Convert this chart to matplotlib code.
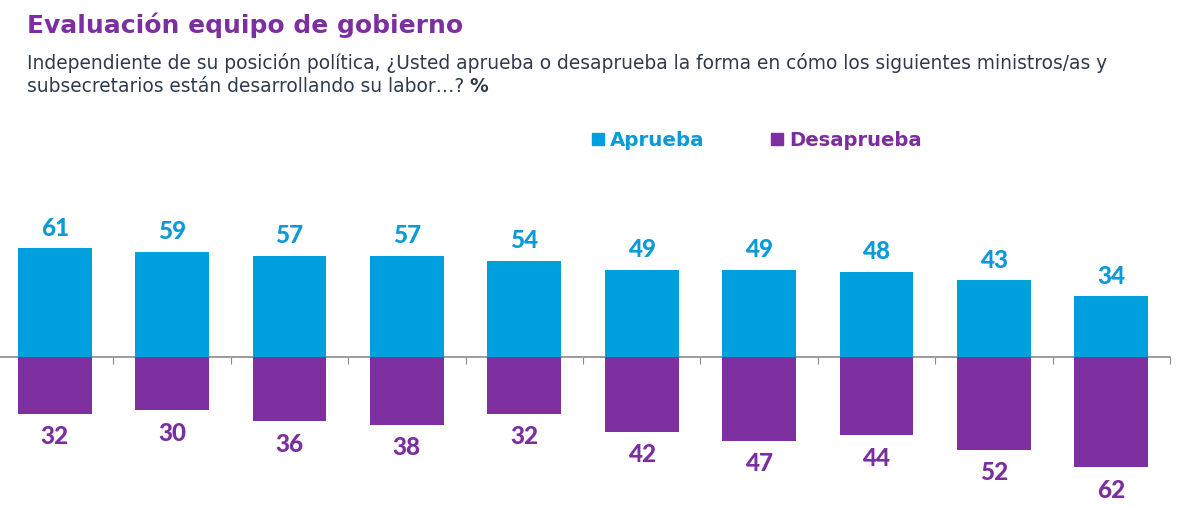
import numpy as np
import matplotlib
matplotlib.use("Agg")
import matplotlib.pyplot as plt
from matplotlib.patches import Rectangle

# data
aprueba = [61, 59, 57, 57, 54, 49, 49, 48, 43, 34]
desaprueba = [32, 30, 36, 38, 32, 42, 47, 44, 52, 62]
series_names = ["Aprueba", "Desaprueba"]

title = "Evaluación equipo de gobierno"
subtitle_1 = ("Independiente de su posición política, ¿Usted aprueba o desaprueba "
              "la forma en cómo los siguientes ministros/as y")
subtitle_2 = "subsecretarios están desarrollando su labor…?"

BLUE = "#00A0DF"
PURPLE = "#7E30A1"
BLUE_TXT = "#0B9AD6"
PURPLE_TXT = "#7B2E9E"
TITLE_C = "#7B2FA0"
SUB_C = "#2E3A4C"

W, H = 1183, 510
fig = plt.figure(figsize=(W / 100, H / 100), dpi=100)
renderer = fig.canvas.get_renderer()


def fit_text(x, y, s, width_px, **kw):
    t = fig.text(x / W, 1 - y / H, s, fontsize=20, **kw)
    w = t.get_window_extent(renderer).width
    t.set_fontsize(20 * width_px / w)
    return t


# title and subtitle
fit_text(27, 25, title, 436, color=TITLE_C, fontweight="bold",
         family="DejaVu Sans", va="center")
t1 = fit_text(27, 63, subtitle_1, 1080, color=SUB_C, family="DejaVu Sans", va="center")
t2 = fig.text(27 / W, 1 - 87 / H, subtitle_2, fontsize=t1.get_fontsize(),
              color=SUB_C, family="DejaVu Sans", va="center")
fig.canvas.draw()
bb = t2.get_window_extent(renderer)
fig.text((bb.x1 + 5) / W, 1 - 87 / H, "%", fontsize=t1.get_fontsize(),
         color=SUB_C, family="DejaVu Sans", fontweight="bold", va="center")

# legend
for (lx, name, c_box, c_txt) in [(592, series_names[0], BLUE, BLUE_TXT),
                                 (771, series_names[1], PURPLE, PURPLE_TXT)]:
    fig.patches.append(Rectangle((lx / W, 1 - 146 / H), 12 / W, 12 / H,
                                 transform=fig.transFigure, color=c_box))
    fit_text(lx + 18, 140, name, 95 if name == "Aprueba" else 133, color=c_txt,
             fontweight="bold", family="DejaVu Sans", va="center")

# axes
px_per_unit = 1.78
zero_px = 358
ax_top, ax_bot = 160, 510
ax = fig.add_axes([-4 / W, 1 - ax_bot / H, 1174 / W, (ax_bot - ax_top) / H])
ax.set_xlim(-0.5, len(aprueba) - 0.5)
ax.set_ylim(-(ax_bot - zero_px) / px_per_unit, (zero_px - ax_top) / px_per_unit)

x = np.arange(len(aprueba))
ax.bar(x, aprueba, width=0.63, color=BLUE, zorder=2)
ax.bar(x, [-v for v in desaprueba], width=0.63, color=PURPLE, zorder=2)

for xi, a, d in zip(x, aprueba, desaprueba):
    ax.annotate(str(a), (xi, a), xytext=(0, 21), textcoords="offset pixels",
                ha="center", va="center", fontsize=17.5, fontweight="black",
                color=BLUE_TXT, family="Lato")
    ax.annotate(str(d), (xi, -d), xytext=(0, -22), textcoords="offset pixels",
                ha="center", va="center", fontsize=17.5, fontweight="black",
                color=PURPLE_TXT, family="Lato")

for s in ["top", "left", "right"]:
    ax.spines[s].set_visible(False)
ax.spines["bottom"].set_position(("data", 0))
ax.spines["bottom"].set_color("#8C8C8C")
ax.spines["bottom"].set_linewidth(1.2)
ax.spines["bottom"].set_zorder(1)
ax.set_xticks(np.arange(len(aprueba) + 1) - 0.5)
ax.tick_params(axis="x", length=5, color="#8C8C8C", labelbottom=False)
ax.set_yticks([])
ax.patch.set_alpha(0)

fig.savefig("out.png", dpi=100)
